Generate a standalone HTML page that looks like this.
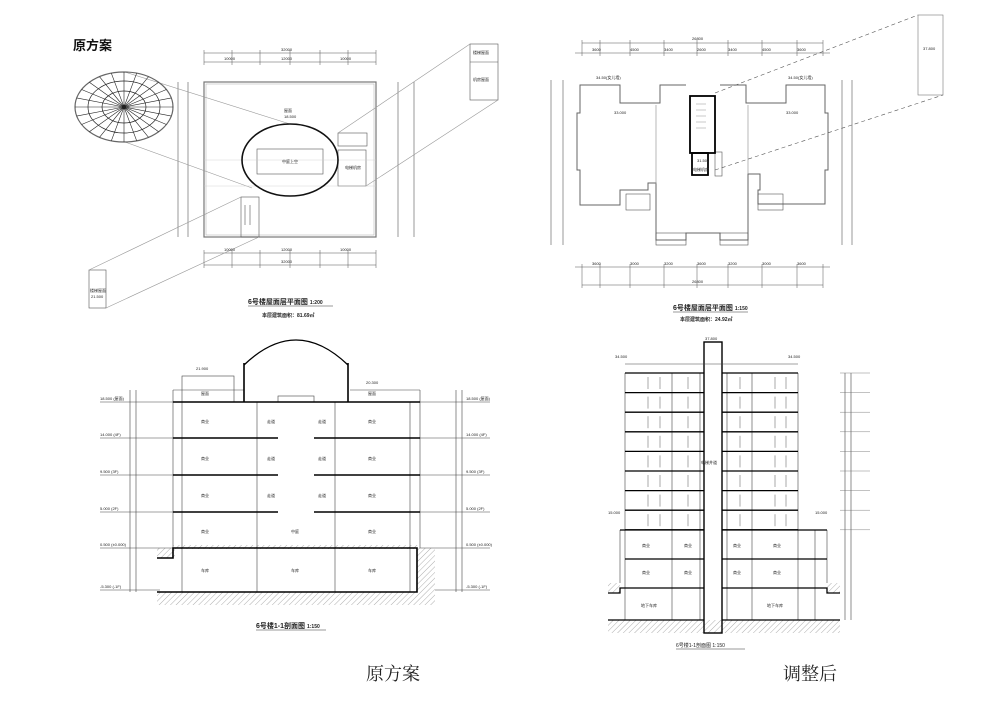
<!DOCTYPE html>
<html><head><meta charset="utf-8"><style>
html,body{margin:0;padding:0;background:#fff}
svg{display:block}
text{font-family:"Liberation Sans","Noto Sans CJK SC",sans-serif;fill:#222}
.t{font-size:4px}
.cap{font-family:"Liberation Serif","Noto Serif CJK SC",serif;font-size:18px;fill:#222}
</style></head><body>
<svg id="s" width="1000" height="707" viewBox="0 0 1000 707" xmlns="http://www.w3.org/2000/svg">
<defs>
<pattern id="h" width="4" height="4" patternUnits="userSpaceOnUse" patternTransform="rotate(45)">
<line x1="0" y1="0" x2="0" y2="4" stroke="#999" stroke-width="0.8"/></pattern>
</defs>
<text x="73" y="50" style="font-size:13px;font-weight:bold;fill:#111">原方案</text>

<!-- ===== Top-left plan ===== -->
<g fill="none" stroke="#555" stroke-width="0.6">
<line x1="204" y1="53" x2="376" y2="53"/><line x1="204" y1="62" x2="376" y2="62"/>
<line x1="204" y1="253" x2="376" y2="253"/><line x1="204" y1="265" x2="376" y2="265"/>
<line x1="178" y1="82" x2="178" y2="237"/><line x1="188" y1="82" x2="188" y2="237"/>
<line x1="398" y1="82" x2="398" y2="237"/><line x1="414" y1="82" x2="414" y2="237"/>
<rect x="204" y="82" width="172" height="155" stroke="#777" stroke-width="1.2"/>
<rect x="206" y="84" width="168" height="151" stroke="#aaa" stroke-width="0.5"/>
<rect x="257" y="149" width="66" height="25"/>
<rect x="338" y="133" width="29" height="13"/>
<rect x="338" y="150" width="28" height="36"/>
<rect x="241" y="197" width="18" height="40"/>
<line x1="245" y1="205" x2="245" y2="225"/><line x1="250" y1="205" x2="250" y2="225"/>
<rect x="470" y="44" width="28" height="56"/><line x1="470" y1="62" x2="498" y2="62"/>
<rect x="89" y="270" width="17" height="38"/>
<line x1="125" y1="72" x2="290" y2="124" stroke="#999"/>
<line x1="125" y1="142" x2="252" y2="188" stroke="#999"/>
<line x1="338" y1="133" x2="470" y2="44" stroke="#999"/>
<line x1="366" y1="186" x2="498" y2="100" stroke="#999"/>
<line x1="241" y1="197" x2="89" y2="270" stroke="#999"/>
<line x1="259" y1="237" x2="106" y2="308" stroke="#999"/>
</g>
<line x1="204" y1="160" x2="376" y2="160" stroke="#ccc" stroke-width="0.4"/>
<line x1="204" y1="186" x2="376" y2="186" stroke="#ccc" stroke-width="0.4"/>
<ellipse cx="290" cy="160" rx="48" ry="36" fill="none" stroke="#111" stroke-width="1.6"/>
<g fill="none" stroke="#222" stroke-width="0.7">
<ellipse cx="124" cy="107" rx="49" ry="35" stroke="#666" stroke-width="1.2"/>
<ellipse cx="124" cy="107" rx="36" ry="26"/>
<ellipse cx="124" cy="107" rx="22" ry="16"/>
</g>
<circle cx="124" cy="107" r="2" fill="#111"/>
<text class="t" x="284" y="112">屋面</text><text class="t" x="284" y="118">18.500</text>
<text class="t" x="282" y="163">中庭上空</text>
<text class="t" x="345" y="169">电梯机房</text>
<text class="t" x="473" y="54">楼梯屋面</text><text class="t" x="473" y="81">机房屋面</text>
<text class="t" x="90" y="292">楼梯屋面</text><text class="t" x="91" y="298">21.500</text>
<text class="t" x="281" y="51">32000</text><text class="t" x="281" y="60">12000</text><text class="t" x="224" y="60">10000</text><text class="t" x="340" y="60">10000</text>
<text class="t" x="224" y="251">10000</text><text class="t" x="281" y="251">12000</text><text class="t" x="340" y="251">10000</text><text class="t" x="281" y="263">32000</text>
<text x="248" y="304" style="font-size:7px;font-weight:bold">6号楼屋面层平面图 <tspan style="font-size:5px">1:200</tspan></text>
<line x1="248" y1="306" x2="333" y2="306" stroke="#333" stroke-width="0.6"/>
<text x="262" y="317" style="font-size:5px;font-weight:bold">本层建筑面积：81.69㎡</text>

<!-- ===== Top-right plan ===== -->
<g fill="none" stroke="#555" stroke-width="0.6">
<line x1="582" y1="43" x2="823" y2="43"/><line x1="575" y1="53" x2="830" y2="53"/>
<line x1="575" y1="267" x2="830" y2="267"/><line x1="582" y1="285" x2="823" y2="285"/>
<line x1="551" y1="80" x2="551" y2="245"/><line x1="563" y1="80" x2="563" y2="245"/>
<line x1="842" y1="80" x2="842" y2="245"/><line x1="852" y1="80" x2="852" y2="245"/>
<path d="M686 85 H660 V103 H620 V85 H580 V113 H577 V170 H580 V205 H620 V190 H648 V183 H656 V240 H686 V233 H720 V240 H748 V174 H760 V190 H758 V204 H825 V170 H828 V113 H825 V85 H786 V103 H746 V85 H720" stroke="#666" stroke-width="1"/>
<line x1="656" y1="105" x2="656" y2="184" stroke="#888"/><line x1="748" y1="105" x2="748" y2="174" stroke="#888"/>
<rect x="626" y="194" width="24" height="16"/><rect x="758" y="194" width="25" height="16"/>
<rect x="656" y="233" width="30" height="12"/><rect x="720" y="233" width="28" height="12"/>
<rect x="918" y="15" width="25" height="80" stroke="#777"/>
<line x1="715" y1="93" x2="918" y2="15" stroke-dasharray="4 3"/>
<line x1="715" y1="170" x2="943" y2="95" stroke-dasharray="4 3"/>
<rect x="715" y="152" width="7" height="24"/>
</g>
<rect x="690" y="96" width="25" height="57" fill="none" stroke="#000" stroke-width="1.8"/>
<rect x="692" y="153" width="16" height="22" fill="none" stroke="#000" stroke-width="1.8"/>
<g stroke="#777" stroke-width="0.4"><line x1="696" y1="104" x2="706" y2="104"/><line x1="696" y1="110" x2="706" y2="110"/><line x1="696" y1="116" x2="706" y2="116"/><line x1="696" y1="122" x2="706" y2="122"/><line x1="696" y1="128" x2="706" y2="128"/></g>
<text class="t" x="692" y="40">26800</text><text class="t" x="692" y="283">26800</text>
<text class="t" x="592" y="51">3600</text><text class="t" x="630" y="51">4500</text><text class="t" x="664" y="51">3400</text><text class="t" x="697" y="51">2600</text><text class="t" x="728" y="51">3400</text><text class="t" x="762" y="51">4500</text><text class="t" x="797" y="51">3600</text>
<text class="t" x="592" y="265">3600</text><text class="t" x="630" y="265">3000</text><text class="t" x="664" y="265">3200</text><text class="t" x="697" y="265">3600</text><text class="t" x="728" y="265">3200</text><text class="t" x="762" y="265">3000</text><text class="t" x="797" y="265">3600</text>
<text class="t" x="596" y="79">34.50(女儿墙)</text><text class="t" x="788" y="79">34.50(女儿墙)</text>
<text class="t" x="614" y="114">33.000</text><text class="t" x="786" y="114">33.000</text>
<text class="t" x="697" y="162">31.502</text><text class="t" x="693" y="171">电梯机房</text>
<text class="t" x="923" y="50">37.800</text>
<text x="673" y="310" style="font-size:7px;font-weight:bold">6号楼屋面层平面图 <tspan style="font-size:5px">1:150</tspan></text>
<line x1="673" y1="312" x2="748" y2="312" stroke="#333" stroke-width="0.6"/>
<text x="680" y="321" style="font-size:5px;font-weight:bold">本层建筑面积：24.92㎡</text>

<!-- ===== Bottom-left section ===== -->
<rect x="157" y="592" width="260" height="13" fill="url(#h)"/>
<rect x="417" y="548" width="18" height="57" fill="url(#h)"/>
<rect x="157" y="548" width="18" height="10" fill="url(#h)"/>
<rect x="173" y="545" width="247" height="4" fill="url(#h)"/>
<g fill="none" stroke="#444" stroke-width="0.6">
<line x1="173" y1="390" x2="173" y2="548"/><line x1="420" y1="390" x2="420" y2="548"/>
<line x1="182" y1="402" x2="182" y2="592"/><line x1="410" y1="402" x2="410" y2="592"/>
<line x1="257" y1="402" x2="257" y2="592"/><line x1="335" y1="402" x2="335" y2="592"/>
<line x1="173" y1="390" x2="244" y2="390"/><line x1="350" y1="390" x2="420" y2="390"/>
<rect x="182" y="376" width="52" height="26"/>
<rect x="278" y="396" width="36" height="6"/>
<line x1="130" y1="390" x2="130" y2="592"/><line x1="136" y1="390" x2="136" y2="592"/>
<line x1="456" y1="390" x2="456" y2="592"/><line x1="462" y1="390" x2="462" y2="592"/>
<line x1="100" y1="402" x2="173" y2="402"/><line x1="100" y1="438" x2="173" y2="438"/><line x1="100" y1="475" x2="173" y2="475"/><line x1="100" y1="512" x2="173" y2="512"/><line x1="100" y1="548" x2="173" y2="548"/><line x1="100" y1="590" x2="160" y2="590"/>
<line x1="420" y1="402" x2="490" y2="402"/><line x1="420" y1="438" x2="490" y2="438"/><line x1="420" y1="475" x2="490" y2="475"/><line x1="420" y1="512" x2="490" y2="512"/><line x1="420" y1="548" x2="490" y2="548"/><line x1="435" y1="590" x2="490" y2="590"/>
</g>
<g stroke="#000" stroke-width="1.6" fill="none">
<line x1="173" y1="402" x2="420" y2="402"/><line x1="173" y1="438" x2="278" y2="438"/><line x1="314" y1="438" x2="420" y2="438"/>
<line x1="173" y1="475" x2="278" y2="475"/><line x1="314" y1="475" x2="420" y2="475"/>
<line x1="173" y1="512" x2="278" y2="512"/><line x1="314" y1="512" x2="420" y2="512"/>
<polyline points="157,558 173,558 173,548 417,548 417,592 157,592"/>
<path d="M244 365 Q296 315 348 365" stroke-width="1.3"/>
<line x1="244" y1="363" x2="244" y2="402"/><line x1="348" y1="363" x2="348" y2="402"/>
</g>
<text class="t" x="201" y="395">屋面</text><text class="t" x="368" y="395">屋面</text>
<text class="t" x="201" y="423">商业</text><text class="t" x="368" y="423">商业</text><text class="t" x="267" y="423">走道</text><text class="t" x="318" y="423">走道</text>
<text class="t" x="201" y="460">商业</text><text class="t" x="368" y="460">商业</text><text class="t" x="267" y="460">走道</text><text class="t" x="318" y="460">走道</text>
<text class="t" x="201" y="497">商业</text><text class="t" x="368" y="497">商业</text><text class="t" x="267" y="497">走道</text><text class="t" x="318" y="497">走道</text>
<text class="t" x="201" y="533">商业</text><text class="t" x="368" y="533">商业</text><text class="t" x="291" y="533">中庭</text>
<text class="t" x="201" y="572">车库</text><text class="t" x="291" y="572">车库</text><text class="t" x="368" y="572">车库</text>
<text class="t" x="196" y="370">21.900</text><text class="t" x="366" y="384">20.300</text>
<text class="t" x="100" y="400">18.500 (屋面)</text><text class="t" x="100" y="436">14.000 (4F)</text><text class="t" x="100" y="473">9.500 (3F)</text><text class="t" x="100" y="510">5.000 (2F)</text><text class="t" x="100" y="546">0.500 (±0.000)</text><text class="t" x="100" y="588">-5.300 (-1F)</text>
<text class="t" x="466" y="400">18.500 (屋面)</text><text class="t" x="466" y="436">14.000 (4F)</text><text class="t" x="466" y="473">9.500 (3F)</text><text class="t" x="466" y="510">5.000 (2F)</text><text class="t" x="466" y="546">0.500 (±0.000)</text><text class="t" x="466" y="588">-5.300 (-1F)</text>
<text x="256" y="628" style="font-size:7px;font-weight:bold">6号楼1-1剖面图 <tspan style="font-size:5px">1:150</tspan></text>
<line x1="256" y1="630" x2="326" y2="630" stroke="#333" stroke-width="0.6"/>

<!-- ===== Bottom-right section ===== -->
<rect x="608" y="620" width="232" height="13" fill="url(#h)"/>
<rect x="608" y="583" width="12" height="10" fill="url(#h)"/>
<rect x="827" y="583" width="13" height="10" fill="url(#h)"/>
<g fill="none" stroke="#444" stroke-width="0.6">
<rect x="704" y="342" width="18" height="291" stroke="#000" stroke-width="1.4"/>
<line x1="625" y1="364" x2="798" y2="364"/>
<line x1="625" y1="373" x2="625" y2="620"/><line x1="672" y1="373" x2="672" y2="620"/><line x1="700" y1="373" x2="700" y2="620"/>
<line x1="727" y1="373" x2="727" y2="620"/><line x1="752" y1="373" x2="752" y2="620"/><line x1="798" y1="373" x2="798" y2="620"/>
<line x1="620" y1="530" x2="620" y2="583"/><line x1="827" y1="530" x2="827" y2="583"/><line x1="815" y1="530" x2="815" y2="620"/>
<line x1="845" y1="373" x2="845" y2="620"/><line x1="851" y1="373" x2="851" y2="620"/>
</g>
<g stroke="#000" stroke-width="1.3" fill="none">
<line x1="625" y1="559" x2="704" y2="559"/><line x1="722" y1="559" x2="827" y2="559"/>
<line x1="620" y1="530" x2="704" y2="530"/><line x1="722" y1="530" x2="827" y2="530"/>
<polyline points="608,593 620,593 620,588 704,588"/><polyline points="722,588 827,588 827,593 840,593"/>
<line x1="608" y1="620" x2="704" y2="620"/><line x1="722" y1="620" x2="840" y2="620"/>
</g>
<text class="t" x="705" y="340">37.800</text><text class="t" x="615" y="358">34.500</text><text class="t" x="788" y="358">34.500</text>
<text class="t" x="608" y="514">15.000</text><text class="t" x="815" y="514">15.000</text>
<text class="t" x="701" y="464">电梯井道</text>
<text class="t" x="642" y="547">商业</text><text class="t" x="684" y="547">商业</text><text class="t" x="733" y="547">商业</text><text class="t" x="773" y="547">商业</text>
<text class="t" x="642" y="574">商业</text><text class="t" x="684" y="574">商业</text><text class="t" x="733" y="574">商业</text><text class="t" x="773" y="574">商业</text>
<text class="t" x="641" y="607">地下车库</text><text class="t" x="767" y="607">地下车库</text>
<text x="676" y="647" style="font-size:5px">6号楼1-1剖面图 1:150</text>
<line x1="676" y1="649" x2="745" y2="649" stroke="#333" stroke-width="0.5"/>

<text class="cap" x="366" y="680">原方案</text>
<text class="cap" x="783" y="680">调整后</text>
</svg>
<script>
(function(){
var ns="http://www.w3.org/2000/svg",s=document.getElementById('s');
function L(x1,y1,x2,y2,w,c){var l=document.createElementNS(ns,'line');l.setAttribute('x1',x1);l.setAttribute('y1',y1);l.setAttribute('x2',x2);l.setAttribute('y2',y2);l.setAttribute('stroke',c||'#000');l.setAttribute('stroke-width',w);s.appendChild(l);}
for(var i=0;i<9;i++){var y=373+i*19.6;L(625,y,704,y,1.3);L(722,y,798,y,1.3);L(840,y,870,y,0.4,'#666');
 if(i<8){[648,660,688,740,775,786].forEach(function(x){L(x,y+4,x,y+16,0.5,'#555');});}}
for(var k=0;k<24;k++){var a=k*Math.PI/12;L(124,107,124+49*Math.cos(a),107+35*Math.sin(a),0.6,'#222');}
[204,232,260,290,320,348,376].forEach(function(x){L(x,50,x,65,0.5,'#555');L(x,250,x,268,0.5,'#555');});
[582,600,630,664,697,728,762,797,823].forEach(function(x){L(x,40,x,56,0.5,'#555');L(x,264,x,288,0.5,'#555');});
})();
</script>
</body></html>
